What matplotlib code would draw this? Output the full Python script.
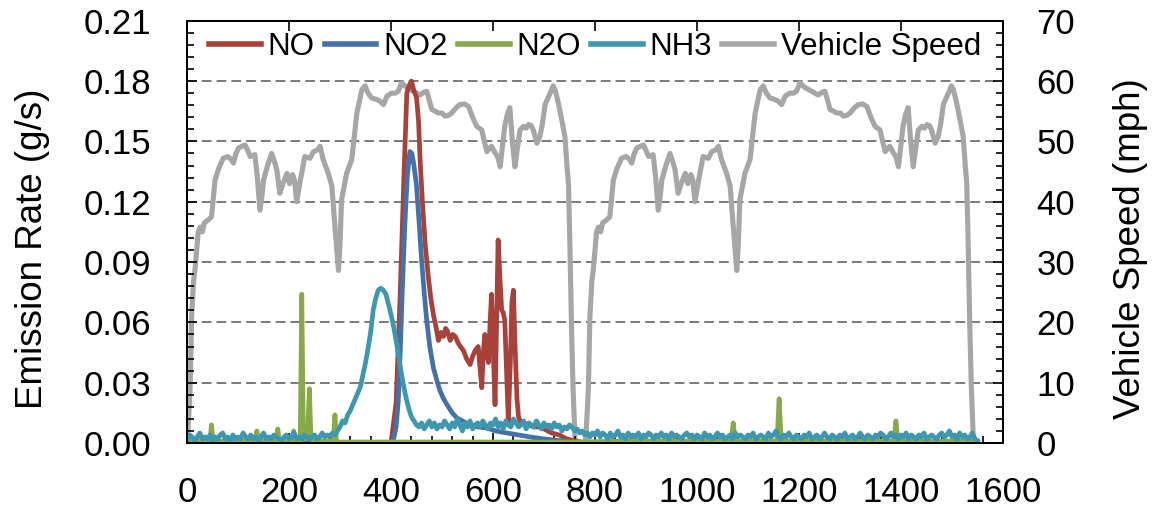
import numpy as np
import matplotlib
matplotlib.use("Agg")
import matplotlib.pyplot as plt
from matplotlib.ticker import MultipleLocator, FormatStrFormatter

plt.rcParams['font.family'] = ['Liberation Sans', 'DejaVu Sans']

# vehicle speed, one drive cycle (s, mph); the test runs it twice
cycle_t = [0, 3, 6, 9, 13, 16, 22, 26, 30, 34, 42, 48, 55, 62, 71, 80, 87, 91, 96, 101,
           108, 114, 119, 124, 133, 138, 143, 147, 150, 158, 166, 172, 176, 182, 188, 196,
           201, 207, 211, 215, 222, 231, 241, 248, 256, 261, 267, 277, 284, 290, 297, 300,
           303, 313, 323, 333, 343, 349, 355, 362, 370, 378, 385, 392, 401, 408, 414, 421,
           431, 438, 444, 452, 457, 465, 470, 480, 487, 493, 500, 506, 512, 519, 528, 535,
           544, 552, 560, 568, 578, 583, 588, 597, 601, 604, 609, 614, 619, 623, 628, 633,
           638, 643, 648, 653, 660, 665, 670, 675, 679, 686, 692, 697, 702, 712, 718, 722,
           728, 735, 741, 745, 748, 751, 754, 757, 761, 780]
cycle_mph = [0, 4, 9, 21, 27, 29, 35, 35.8, 35, 36.5, 37, 37.5, 43.6, 45.5, 47.2, 47.5, 47,
             46.4, 48, 48.9, 49.2, 49.4, 48.5, 47.5, 47.8, 44, 38.6, 41, 43.6, 46, 48, 46.5,
             45.3, 41.4, 43, 44.7, 43, 44.5, 43.5, 40, 43.5, 47.5, 47.2, 48.3, 48.6, 49.2, 47,
             44.7, 42.6, 36, 28.6, 33, 40.3, 44.7, 47, 54.7, 58.6, 59.2, 58, 57.2, 57, 56.7,
             56.1, 57.5, 58, 58, 58.3, 59.7, 58.9, 58.6, 58.3, 57.9, 57.7, 58.2, 58.3, 55.3,
             55, 54.7, 54.7, 54.2, 54.3, 54.7, 55.6, 56.1, 56.2, 55.8, 54, 52.5, 51.9, 50,
             48.3, 49.2, 48.6, 48.1, 47.5, 45.8, 49.5, 52.5, 54.5, 55.6, 50, 45.8, 49, 51.9,
             52.5, 52.2, 52.8, 52.6, 51.9, 49.7, 50.8, 53, 56.1, 58, 59.2, 58.5, 56.4, 53.5,
             50.8, 46, 43, 32, 19, 9, 0.3, 0]
cycle_offset = 781

# NO (g/s)
no_t = [0, 230, 235, 240, 400, 410, 418, 425, 431, 436, 440, 445, 450, 454, 457, 462, 467,
        473, 478, 483, 488, 493, 498, 503, 507, 510, 516, 521, 526, 531, 536, 542, 548, 555,
        560, 565, 571, 575, 578, 581, 584, 588, 591, 594, 597, 600, 604, 607, 610, 613, 617,
        620, 623, 626, 630, 634, 637, 640, 643, 647, 650, 653, 660, 670, 680, 690, 700, 715,
        730, 745, 760, 780, 1550]
no_val = [0, 0, 0.006, 0, 0, 0.02, 0.074, 0.13, 0.174, 0.178, 0.18, 0.175, 0.172, 0.16,
          0.141, 0.118, 0.099, 0.083, 0.072, 0.064, 0.058, 0.051, 0.055, 0.053, 0.057, 0.056,
          0.051, 0.054, 0.053, 0.05, 0.048, 0.046, 0.042, 0.039, 0.043, 0.046, 0.048, 0.036,
          0.0275, 0.045, 0.054, 0.045, 0.04, 0.058, 0.074, 0.05, 0.019, 0.06, 0.101, 0.085,
          0.066, 0.065, 0.061, 0.04, 0.011, 0.04, 0.07, 0.076, 0.05, 0.022, 0.013, 0.011,
          0.01, 0.009, 0.008, 0.008, 0.007, 0.005, 0.004, 0.002, 0.001, 0, 0]

# NO2 (g/s)
no2_t = [0, 400, 405, 410, 414, 418, 422, 427, 432, 437, 441, 445, 450, 455, 460, 465, 470,
         476, 483, 490, 496, 503, 510, 520, 529, 540, 555, 570, 588, 605, 627, 650, 673, 700,
         738, 760, 1550]
no2_val = [0, 0, 0.002, 0.008, 0.02, 0.045, 0.075, 0.108, 0.133, 0.145, 0.144, 0.138, 0.128,
           0.11, 0.091, 0.075, 0.061, 0.048, 0.0375, 0.031, 0.026, 0.022, 0.019, 0.015,
           0.0125, 0.011, 0.009, 0.008, 0.0075, 0.006, 0.005, 0.004, 0.003, 0.002, 0.001, 0, 0]

# N2O (g/s)
n2o_t = [0, 45, 48, 51, 133, 137, 141, 175, 178, 181, 206, 209, 212, 222, 225, 228, 231, 236,
         240, 243, 246, 287, 290, 293, 760, 871, 874, 877, 1067, 1071, 1075, 1157, 1161, 1165,
         1386, 1390, 1394, 1550]
n2o_val = [0.001, 0.001, 0.009, 0.001, 0.001, 0.006, 0.001, 0.001, 0.007, 0.001, 0.001,
           0.006, 0.001, 0.001, 0.074, 0.005, 0.002, 0.002, 0.027, 0.002, 0.001, 0.001,
           0.014, 0.0005, 0.0005, 0.001, 0.003, 0.001, 0.001, 0.010, 0.001, 0.001, 0.022,
           0.001, 0.001, 0.011, 0.001, 0.001]

# NH3 (mg/s), every 5 s from 0 to 1550 s
nh3_mg = [2, 4, 3, 1, 3, 5, 2, 3, 2, 4, 1, 3, 2, 4, 5, 2, 3, 1, 4, 2,
          3, 2, 5, 3, 2, 4, 2, 3, 1, 3, 5, 2, 3, 2, 4, 3, 2, 1, 3, 4,
          2, 3, 5, 2, 3, 2, 4, 3, 2, 3, 4, 2, 3, 5, 3, 4, 3, 5, 4, 6,
          8, 11, 10, 14, 16, 19, 22, 25, 28, 34, 40, 47, 55, 66, 72, 76, 77, 76, 74, 69,
          64, 58, 51, 43, 35, 28, 22, 17, 13, 11, 9, 8, 10, 7, 9, 11, 8, 10, 7, 9,
          8, 11, 9, 7, 10, 8, 12, 9, 6, 10, 8, 11, 7, 9, 10, 8, 11, 9, 7, 10,
          9, 12, 8, 10, 7, 11, 9, 8, 12, 10, 8, 9, 11, 7, 10, 9, 8, 11, 9, 7,
          10, 8, 9, 7, 10, 8, 9, 6, 8, 7, 9, 8, 6, 7, 5, 6, 4, 5, 3, 5,
          4, 6, 3, 5, 4, 2, 5, 3, 4, 6, 3, 4, 2, 5, 3, 4, 3, 5, 2, 4,
          3, 5, 4, 2, 4, 3, 5, 3, 4, 2, 5, 3, 4, 3, 2, 4, 5, 3, 4, 2,
          4, 3, 2, 5, 3, 4, 2, 3, 5, 3, 4, 2, 3, 4, 2, 5, 3, 4, 3, 2,
          4, 3, 5, 2, 3, 4, 3, 2, 5, 3, 4, 6, 3, 2, 4, 3, 5, 3, 2, 4,
          3, 2, 4, 3, 5, 2, 3, 4, 2, 3, 5, 3, 2, 4, 3, 2, 4, 3, 5, 2,
          3, 4, 2, 3, 5, 3, 2, 4, 3, 2, 4, 3, 5, 4, 2, 3, 5, 3, 4, 2,
          4, 3, 5, 2, 4, 3, 2, 4, 3, 5, 2, 3, 4, 3, 2, 4, 5, 3, 4, 6,
          3, 4, 2, 5, 3, 4, 2, 3, 5, 2, 1]
nh3_t = np.arange(0, 1551, 5)

speed_t = cycle_t + [t + cycle_offset for t in cycle_t[:-1]]
speed_mph = cycle_mph + cycle_mph[:-1]

c_no = '#A9413B'
c_no2 = '#4472A8'
c_n2o = '#88A84A'
c_nh3 = '#3D97AF'
c_spd = '#A6A6A6'

fig = plt.figure(figsize=(11.53, 5.19), dpi=100)
ax = fig.add_axes([0.1622, 0.1464, 0.7077, 0.8136])
ax2 = ax.twinx()
ax.set_zorder(ax2.get_zorder() + 1)
ax.patch.set_visible(False)

lw = 3.4
ax2.plot(speed_t, speed_mph, color=c_spd, lw=3.7, solid_joinstyle='round', label='Vehicle Speed')
ax.plot(no_t, no_val, color=c_no, lw=lw, solid_joinstyle='round', label='NO')
ax.plot(no2_t, no2_val, color=c_no2, lw=lw, solid_joinstyle='round', label='NO2')
ax.plot(n2o_t, n2o_val, color=c_n2o, lw=lw, solid_joinstyle='round', label='N2O')
ax.plot(nh3_t, np.array(nh3_mg) / 1000, color=c_nh3, lw=lw, solid_joinstyle='round', label='NH3')

ax.set_xlim(0, 1600)
ax.set_ylim(0, 0.21)
ax2.set_ylim(0, 70)

ax.set_xticks(range(0, 1601, 200))
ax.xaxis.set_minor_locator(MultipleLocator(40))
ax.yaxis.set_major_locator(MultipleLocator(0.03))
ax.yaxis.set_minor_locator(MultipleLocator(0.006))
ax.yaxis.set_major_formatter(FormatStrFormatter('%.2f'))
ax2.yaxis.set_major_locator(MultipleLocator(10))
ax2.yaxis.set_minor_locator(MultipleLocator(2))

ax2.grid(True, which='major', color='#7a7a7a', lw=1.4, linestyle=(0, (5, 2.6)))
ax2.set_axisbelow(True)

ax.tick_params(axis='x', which='major', direction='in', top=True, length=7, width=1.2,
               labelsize=25, pad=24)
ax.tick_params(axis='x', which='minor', direction='in', top=False, length=5, width=1.2)
ax.tick_params(axis='y', which='major', direction='in', length=7, width=1.2, labelsize=25, pad=26)
ax.tick_params(axis='y', which='minor', direction='in', length=5, width=1.2)
ax2.tick_params(axis='y', which='major', direction='in', length=7, width=1.2, labelsize=25, pad=24)
ax2.tick_params(axis='y', which='minor', direction='in', length=5, width=1.2)

for a in (ax, ax2):
    for s in a.spines.values():
        s.set_linewidth(1.4)

ax.set_ylabel('Emission Rate (g/s)', fontsize=26.5)
ax.yaxis.set_label_coords(-0.168, 0.46)
ax2.set_ylabel('Vehicle Speed (mph)', fontsize=26.5, rotation=90)
ax2.yaxis.set_label_coords(1.135, 0.46)

h1, l1 = ax.get_legend_handles_labels()
h2, l2 = ax2.get_legend_handles_labels()
leg = ax.legend(h1 + h2, l1 + l2, loc='center', bbox_to_anchor=(0.5, 0.938), ncol=5,
                frameon=False, fontsize=22.5, handlelength=1.66, handletextpad=0.22,
                columnspacing=0.32, borderaxespad=0)
for line in leg.get_lines():
    line.set_linewidth(4)

fig.savefig('out.png', dpi=100)
